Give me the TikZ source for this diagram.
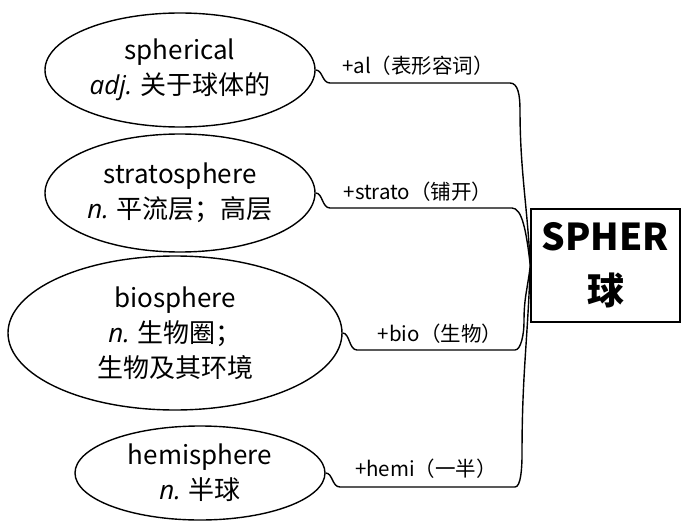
\documentclass[tikz,border=0pt]{standalone}
\usepackage{fontspec}
\setmainfont{Noto Sans CJK SC}
\newfontfamily\latinit{Open Sans}
\usetikzlibrary{shapes.geometric}
\tikzset{
  word/.style={draw, ellipse, line width=1.4pt, inner sep=0pt, align=center,
    font=\fontsize{26}{35}\selectfont},
  rootbox/.style={draw, rectangle, line width=1.4pt, align=center, inner sep=0pt,
    minimum width=149pt, minimum height=113pt, font=\bfseries\fontsize{37}{54}\selectfont},
  affix/.style={font=\fontsize{20.5}{24}\selectfont, inner sep=0pt},
  link/.style={line width=1.4pt}
}
\newcommand{\pos}[1]{{\latinit\itshape #1}}
\begin{document}
\begin{tikzpicture}[x=1pt,y=-1pt]
\useasboundingbox (0,0) rectangle (682,524);
\node[word, minimum width=270pt, minimum height=114pt] (e1) at (180,70) {spherical\\\pos{adj.} 关于球体的};
\node[word, minimum width=270pt, minimum height=118pt] (e2) at (180,193) {stratosphere\\\pos{n.} 平流层；高层};
\node[word, minimum width=334pt, minimum height=154pt] (e3) at (175,333) {biosphere\\\pos{n.} 生物圈；\\生物及其环境};
\node[word, minimum width=250pt, minimum height=94pt] (e4) at (200,473) {hemisphere\\\pos{n.} 半球};
\node[rootbox] (root) at (605.5,265.5) {SPHER\\球};

\node[affix] (l1) at (418,66) {+al（表形容词）};
\node[affix] (l2) at (418,192) {+strato（铺开）};
\node[affix] (l3) at (440,334) {+bio（生物）};
\node[affix] (l4) at (426,469) {+hemi（一半）};

\coordinate (k1) at (330,83);  \coordinate (h1) at (510,83);  \coordinate (c1) at (520,110);
\coordinate (k2) at (330,208); \coordinate (h2) at (512,208);
\coordinate (k3) at (357,350); \coordinate (h3) at (515,350); \coordinate (c3) at (524,322);
\coordinate (k4) at (340,487); \coordinate (h4) at (515,487); \coordinate (c4) at (522,455);

\draw[link] (e1.east) .. controls +(7,0) and +(-8,0) .. (k1) -- (h1)
  .. controls +(8,0) and +(0,-15) .. (c1) .. controls +(0,60) and +(-3,-60) .. (root.west);
\draw[link] (e2.east) .. controls +(7,0) and +(-8,0) .. (k2) -- (h2)
  .. controls +(10,0) and +(-4,-35) .. (root.west);
\draw[link] (e3.east) .. controls +(7,0) and +(-8,0) .. (k3) -- (h3)
  .. controls +(6,0) and +(0,12) .. (c3) .. controls +(0,-25) and +(-3,25) .. (root.west);
\draw[link] (e4.east) .. controls +(7,0) and +(-8,0) .. (k4) -- (h4)
  .. controls +(6,0) and +(0,12) .. (c4) .. controls +(0,-80) and +(-3,80) .. (root.west);
\end{tikzpicture}
\end{document}
